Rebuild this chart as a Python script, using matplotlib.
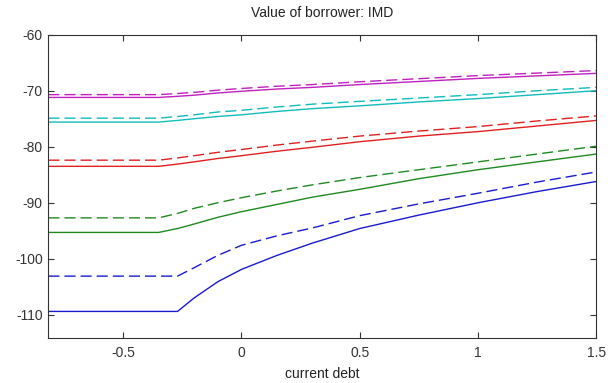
import numpy as np
import matplotlib
matplotlib.use("Agg")
import matplotlib.pyplot as plt

plt.rcParams['font.family'] = ['Liberation Sans', 'DejaVu Sans']
plt.rcParams['axes.unicode_minus'] = False

# current debt grid
debt = [-0.816, -0.35, -0.27, -0.2, -0.1, 0.0, 0.15, 0.3, 0.5, 0.75, 1.0, 1.25, 1.5]

# value of borrower, solid and dashed pairs
magenta_solid = [-71.2, -71.2, -71.0, -70.8, -70.4, -70.1, -69.7, -69.4, -68.9, -68.35, -67.8, -67.35, -66.9]
magenta_dash = [-70.7, -70.7, -70.5, -70.3, -69.9, -69.6, -69.2, -68.9, -68.4, -67.85, -67.3, -66.85, -66.4]
cyan_solid = [-75.6, -75.6, -75.3, -75.0, -74.6, -74.3, -73.7, -73.2, -72.7, -72.0, -71.4, -70.7, -70.0]
cyan_dash = [-74.9, -74.9, -74.6, -74.3, -73.8, -73.5, -72.9, -72.4, -71.9, -71.3, -70.7, -70.0, -69.4]
red_solid = [-83.5, -83.5, -83.1, -82.7, -82.1, -81.6, -80.8, -80.1, -79.1, -78.1, -77.3, -76.3, -75.3]
red_dash = [-82.4, -82.4, -82.0, -81.6, -81.0, -80.5, -79.7, -79.0, -78.1, -77.2, -76.4, -75.4, -74.5]
green_solid = [-95.3, -95.3, -94.6, -93.8, -92.6, -91.6, -90.3, -89.0, -87.6, -85.7, -84.1, -82.7, -81.3]
green_dash = [-92.7, -92.7, -91.9, -91.0, -90.0, -89.1, -87.9, -86.8, -85.5, -84.1, -82.7, -81.3, -79.9]
blue_solid = [-109.4, -109.4, -109.4, -107.0, -104.1, -101.9, -99.4, -97.2, -94.6, -92.2, -90.0, -88.0, -86.2]
blue_dash = [-103.1, -103.1, -103.1, -101.6, -99.4, -97.6, -95.9, -94.5, -92.3, -90.2, -88.3, -86.3, -84.5]

series = [
    (blue_solid, blue_dash, '#1a1ad0'),
    (green_solid, green_dash, '#1f8a1f'),
    (red_solid, red_dash, '#e02020'),
    (cyan_solid, cyan_dash, '#10bcbc'),
    (magenta_solid, magenta_dash, '#c020c0'),
]

xticks = [-0.5, 0, 0.5, 1, 1.5]
xticklabels = ['-0.5', '0', '0.5', '1', '1.5']
yticks = [-110, -100, -90, -80, -70, -60]

fig = plt.figure(figsize=(6.08, 3.83), dpi=100)
ax = fig.add_axes([0.0795, 0.1167, 0.9015, 0.7927])

for solid, dash, col in series:
    ax.plot(debt, solid, color=col, lw=1.0)
    ax.plot(debt, dash, color=col, lw=1.0, dashes=(8, 3.6))

ax.set_xlim(-0.816, 1.5)
ax.set_ylim(-114.2, -60)
ax.set_xticks(xticks)
ax.set_xticklabels(xticklabels)
ax.set_yticks(yticks)

ax.tick_params(direction='in', length=4, width=0.8, colors='#333333',
               labelsize=10, top=True, right=True)
ax.tick_params(axis='x', pad=5.5)
ax.tick_params(axis='y', pad=4)
for s in ax.spines.values():
    s.set_color('#333333')
    s.set_linewidth(0.8)

ax.set_title('Value of borrower: IMD', fontsize=10, color='#222222', pad=13)
ax.set_xlabel('current debt', fontsize=10, color='#222222', labelpad=5)

fig.savefig('out.png', dpi=100)
